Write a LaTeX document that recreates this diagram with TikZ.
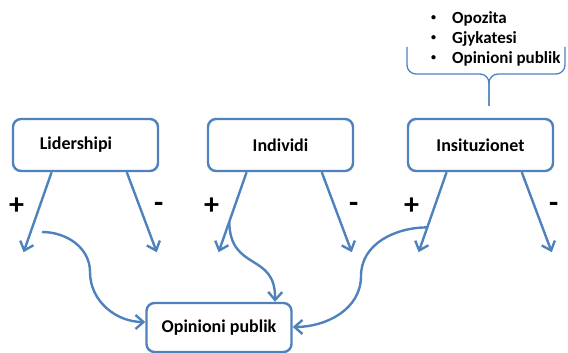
\documentclass[tikz,border=0pt]{standalone}
\usepackage{fontspec}
\setmainfont{Carlito}
\usetikzlibrary{arrows.meta,calc}
\definecolor{lvgBlue}{RGB}{79,129,189}
\newcommand{\lvgDot}{\raisebox{3pt}{\fontsize{10}{10}\selectfont\textbullet}\hspace{16pt}}

\begin{document}
\begin{tikzpicture}
  [x=1pt,y=-1pt,
   boxN/.style={draw=lvgBlue,line width=2.4pt,rounded corners=8pt,fill=white,
     minimum width=145pt,minimum height=52pt,inner sep=0pt,
     font=\fontsize{18}{20}\selectfont\bfseries},
   arrN/.style={draw=lvgBlue,line width=2.4pt,-{Straight Barb[length=8pt,width=14pt]}},
   signN/.style={font=\fontsize{30}{32}\selectfont\bfseries},
   braceN/.style={draw=lvgBlue,line width=1.3pt,rounded corners=9pt},
  ]
 \useasboundingbox (0,0) rectangle (568,353);

 \node[boxN] (lider) at (85.5,145) {Lidershipi\hspace*{19pt}};
 \node[boxN] (indiv) at (280.5,145) {Individi};
 \node[boxN] (insti) at (480.5,145) {Insituzionet};
 \node[boxN,minimum height=49pt] (opin) at (219,327.5) {Opinioni publik};

 \foreach \b in {lider,indiv,insti} {
   \coordinate (\b-p) at ($(\b.south west)!0.27!(\b.south east)$);
   \coordinate (\b-m) at ($(\b.south west)!0.78!(\b.south east)$);
   \coordinate (\b-pe) at ($(\b-p)+(-28,80)$);
   \coordinate (\b-me) at ($(\b-m)+(30,80)$);
   \draw[arrN] (\b-p) -- (\b-pe);
   \draw[arrN] (\b-m) -- (\b-me);
   \node[signN] (\b-plus) at ($(\b-p)+(-35,34)$) {+};
   \node[signN] (\b-minus) at ($(\b-m)+(32,35)$) {-};
 }

 \coordinate (lider-c) at (42,232);
 \draw[arrN] (lider-c) to[out=0,in=90] (90,272) to[out=-90,in=180] (opin.west |- 0,322);
 \draw[arrN] ($(indiv-p)!0.62!(indiv-pe)$) .. controls (230,272) and (276,252) .. (opin.north -| 275,0);
 \draw[arrN] ($(insti-p)!0.69!(insti-pe)$) to[out=180,in=90] (361,276) to[out=-90,in=0] (opin.east |- 0,327);

 \draw[braceN] (407,47) -- (407,74) -- (489,74) -- (489,106);
 \draw[braceN] (565,47) -- (565,74) -- (489,74) -- (489,106);
 \node[anchor=west,align=left,inner sep=0pt,font=\fontsize{17}{20}\selectfont\bfseries] (list) at (431,39)
   {\lvgDot Opozita\\ \lvgDot Gjykatesi\\ \lvgDot Opinioni publik};
\end{tikzpicture}
\end{document}
